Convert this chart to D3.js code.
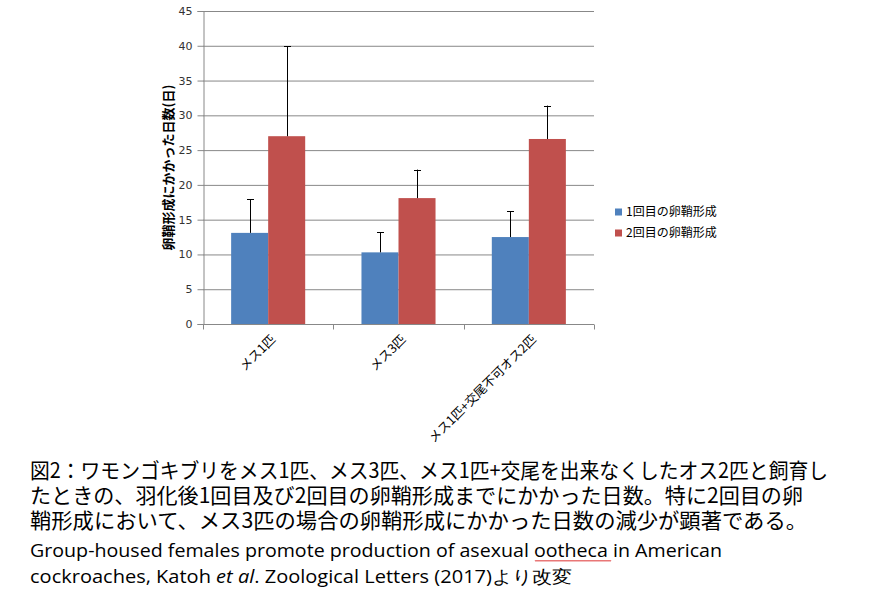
<!DOCTYPE html>
<html><head><meta charset="utf-8">
<script src="https://cdn.jsdelivr.net/npm/d3@7/dist/d3.min.js"></script>
<style>body{margin:0;background:#fff}svg{display:block}</style>
</head><body>
<svg id="c" width="887" height="606"></svg>
<script>
const categories = ["メス1匹", "メス3匹", "メス1匹+交尾不可オス2匹"];
const seriesNames = ["1回目の卵鞘形成", "2回目の卵鞘形成"];
const firstMeans = [13.1, 10.3, 12.5];
const firstUpper = [17.9, 13.2, 16.2];
const secondMeans = [27.0, 18.1, 26.6];
const secondUpper = [39.9, 22.2, 31.4];
const yTicks = [0, 5, 10, 15, 20, 25, 30, 35, 40, 45];
const yLabel = "卵鞘形成にかかった日数(日)";
const captionJa = [
  "図2：ワモンゴキブリをメス1匹、メス3匹、メス1匹+交尾を出来なくしたオス2匹と飼育し",
  "たときの、羽化後1回目及び2回目の卵鞘形成までにかかった日数。特に2回目の卵",
  "鞘形成において、メス3匹の場合の卵鞘形成にかかった日数の減少が顕著である。"
];
const captionEn1 = "Group-housed females promote production of asexual ootheca in American";
const captionEn2a = "cockroaches, Katoh ";
const captionEn2b = "et al";
const captionEn2c = ". Zoological Letters (2017)より改変";

const colors = ["#4F81BD", "#C0504D"];
const means = [firstMeans, secondMeans];
const uppers = [firstUpper, secondUpper];
const jp = "'Noto Sans CJK JP', sans-serif";

const svg = d3.select("#c");
const L = 203, R = 594, T = 11, B = 324;
const x = d3.scaleBand().domain(categories).range([L, R]).padding(0);
const x1 = d3.scaleBand().domain(seriesNames).range([0, x.bandwidth()]).paddingInner(0).paddingOuter(0.76);
const y = d3.scaleLinear().domain([0, 45]).range([B, T]);

// gridlines
svg.append("g").selectAll("line").data(yTicks.filter(d => d > 0)).join("line")
  .attr("x1", L).attr("x2", R).attr("y1", d => y(d) + 0.5).attr("y2", d => y(d) + 0.5)
  .attr("stroke", "#888").attr("stroke-width", 1);

// y axis
const yAxis = svg.append("g").attr("transform", `translate(${L + 0.5},0)`)
  .call(d3.axisLeft(y).tickValues(yTicks).tickSize(6).tickPadding(5));
yAxis.select(".domain").attr("stroke", "#888");
yAxis.selectAll(".tick line").attr("stroke", "#888");
yAxis.selectAll(".tick text").attr("font-family", "Verdana, 'DejaVu Sans', sans-serif").attr("font-size", 11).attr("fill", "#333");

// bars
const groups = svg.append("g").selectAll("g").data(seriesNames).join("g").attr("fill", (d, i) => colors[i]);
groups.selectAll("rect").data((s, si) => categories.map((c, ci) => ({c, s, v: means[si][ci], u: uppers[si][ci]}))).join("rect")
  .attr("x", d => x(d.c) + x1(d.s)).attr("width", x1.bandwidth())
  .attr("y", d => y(d.v)).attr("height", d => y(0) - y(d.v));

// error bars
const eb = svg.append("g").attr("stroke", "#000").attr("stroke-width", 1);
seriesNames.forEach((s, si) => {
  categories.forEach((c, ci) => {
    const cx = Math.round(x(c) + x1(s) + x1.bandwidth() / 2) + 0.5;
    eb.append("line").attr("x1", cx).attr("x2", cx).attr("y1", y(means[si][ci])).attr("y2", y(uppers[si][ci]));
    eb.append("line").attr("x1", cx - 3.5).attr("x2", cx + 3.5).attr("y1", Math.round(y(uppers[si][ci])) + 0.5).attr("y2", Math.round(y(uppers[si][ci])) + 0.5);
  });
});

// x axis
const xAxisG = svg.append("g").attr("transform", `translate(0,${B + 0.5})`);
xAxisG.append("line").attr("x1", L).attr("x2", R).attr("stroke", "#888");
const bounds = [L, ...categories.map(c => x(c) + x.bandwidth())];
xAxisG.selectAll("line.t").data(bounds).join("line").attr("class", "t")
  .attr("x1", d => Math.round(d) + 0.5).attr("x2", d => Math.round(d) + 0.5).attr("y1", 0).attr("y2", 5).attr("stroke", "#888");
svg.append("g").selectAll("text").data(categories).join("text")
  .attr("transform", d => `translate(${x(d) + x.bandwidth() / 2 + 2},${B + 10}) rotate(-45)`)
  .attr("text-anchor", "end").attr("dy", "0.7em")
  .attr("font-family", jp).attr("font-size", 12.5).attr("fill", "#000").text(d => d);

// y label
svg.append("text").attr("transform", `translate(173,${(T + B) / 2}) rotate(-90)`)
  .attr("text-anchor", "middle").attr("font-family", jp).attr("font-size", 13).attr("font-weight", "bold")
  .text(yLabel);

// legend
const lg = svg.append("g").selectAll("g").data(seriesNames).join("g")
  .attr("transform", (d, i) => `translate(615,${212 + i * 21})`);
lg.append("rect").attr("x", 0).attr("y", -3.5).attr("width", 7).attr("height", 7).attr("fill", (d, i) => colors[i]);
lg.append("text").attr("x", 11).attr("dy", "0.35em").attr("font-family", jp).attr("font-size", 12).text(d => d);

// caption
const capJ = svg.append("g").attr("font-family", jp).attr("font-size", 21).attr("fill", "#000");
const jWidths = [798, 773, 777];
capJ.selectAll("text").data(captionJa).join("text")
  .attr("x", 30).attr("y", (d, i) => 478 + i * 25)
  .attr("textLength", (d, i) => jWidths[i]).attr("lengthAdjust", "spacingAndGlyphs").text(d => d);

const en = "'Open Sans', 'Noto Sans', sans-serif";
svg.append("text").attr("x", 30).attr("y", 557).attr("font-family", en).attr("font-size", 18)
  .attr("textLength", 692).attr("lengthAdjust", "spacingAndGlyphs").text(captionEn1);
const t2 = svg.append("text").attr("x", 30).attr("y", 583).attr("font-family", en).attr("font-size", 18)
  .attr("textLength", 542).attr("lengthAdjust", "spacingAndGlyphs");
t2.append("tspan").text(captionEn2a);
t2.append("tspan").attr("font-style", "italic").text(captionEn2b);
t2.append("tspan").text(captionEn2c);

// spellcheck squiggle under "ootheca"
let sq = "M535,560";
for (let xx = 535; xx < 610; xx += 2) sq += ` L${xx + 1},${(xx / 2) % 2 ? 561.5 : 559.5} L${xx + 2},560`;
svg.append("path").attr("d", sq).attr("fill", "none").attr("stroke", "#e04040").attr("stroke-width", 0.8);
</script>
</body></html>
